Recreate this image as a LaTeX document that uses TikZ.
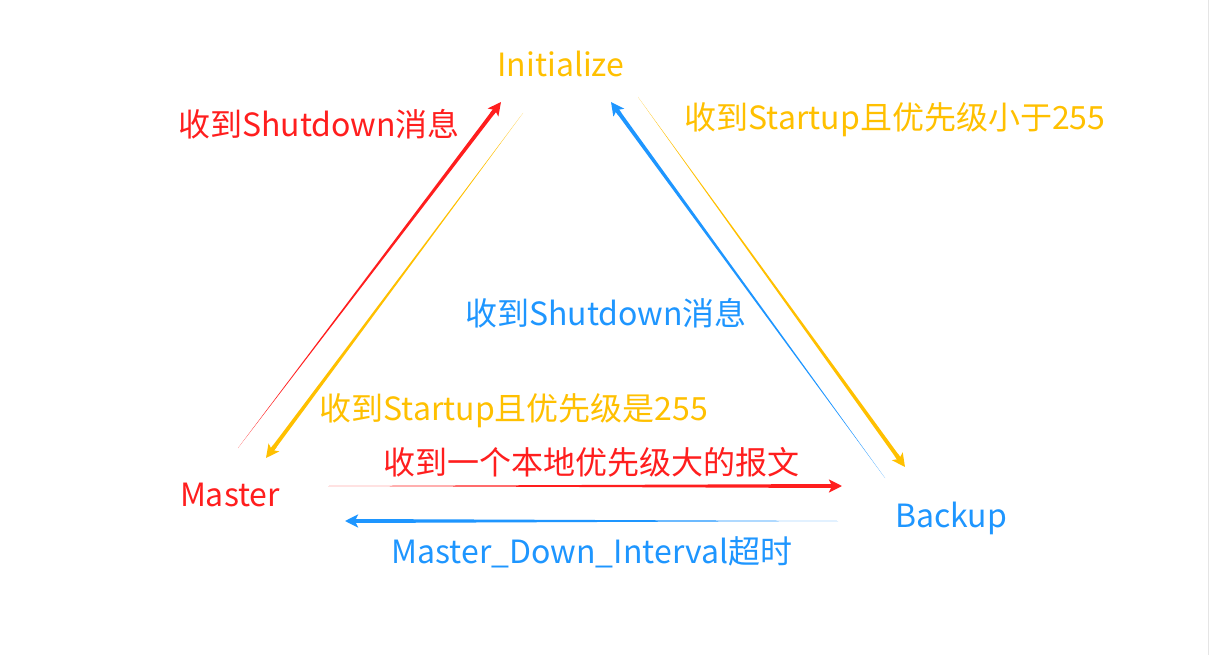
\documentclass[tikz,border=0pt]{standalone}
\usepackage{fontspec}
\setmainfont{Noto Sans CJK SC}
\usetikzlibrary{calc,arrows.meta}
\definecolor{cred}{RGB}{255,30,30}
\definecolor{corange}{RGB}{255,192,0}
\definecolor{cblue}{RGB}{30,150,255}
\tikzset{lbl/.style={inner sep=0pt, font=\fontsize{32}{38}\selectfont, anchor=center}}
\newcommand\taparrow[3]{%
  \fill[#1] (#2) -- ($($(#3)!9pt!(#2)$)!2pt!90:(#2)$) -- ($($(#3)!9pt!(#2)$)!2pt!-90:(#2)$) -- cycle;
  \draw[#1, line width=4pt, -{Stealth[length=13pt,width=13pt,inset=3pt]}] ($(#3)!15pt!(#2)$) -- (#3);
}
\begin{document}
\begin{tikzpicture}[x=1pt,y=-1pt]
\useasboundingbox (0,0) rectangle (1209,655);
\fill[white] (0,0) rectangle (1209,655);
\draw[black!10, line width=1pt] (1208.5,0) -- (1208.5,655);

\node[lbl, text=corange] (init) at (561,64) {Initialize};
\node[lbl, text=cred] (master) at (230,495) {Master};
\node[lbl, text=cblue] (backup) at (951,518) {Backup};

\node[lbl, text=cred] (l1) at (319,124) {收到Shutdown消息};
\node[lbl, text=corange] (l2) at (895,120) {收到Startup且优先级小于255};
\node[lbl, text=cblue] (l3) at (606,313) {收到Shutdown消息};
\node[lbl, text=corange] (l4) at (514,411) {收到Startup且优先级是255};
\node[lbl, text=cred] (l5) at (591,462) {收到一个本地优先级大的报文};
\node[lbl, text=cblue] (l6) at (592,552) {Master\_Down\_Interval超时};

\coordinate (mi1) at (238,448);
\coordinate (mi2) at (501,102);
\coordinate (im1) at (523,113);
\coordinate (im2) at (266,458);
\coordinate (bi1) at (885,478);
\coordinate (bi2) at (611,102);
\coordinate (ib1) at (638,97);
\coordinate (ib2) at (905,467);
\coordinate (mb1) at (328,486);
\coordinate (mb2) at (842,486);
\coordinate (bm1) at (838,521);
\coordinate (bm2) at (345,521);

\taparrow{cred}{mi1}{mi2}
\taparrow{corange}{im1}{im2}
\taparrow{cblue}{bi1}{bi2}
\taparrow{corange}{ib1}{ib2}
\taparrow{cred}{mb1}{mb2}
\taparrow{cblue}{bm1}{bm2}
\end{tikzpicture}
\end{document}
